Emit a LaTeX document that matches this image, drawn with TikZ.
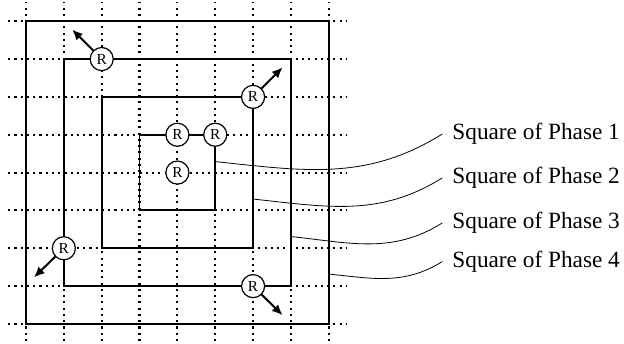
\documentclass[tikz,border=0pt]{standalone}
\usepackage{fontspec}
\setmainfont{Liberation Serif}
\usetikzlibrary{arrows.meta,positioning}

\begin{document}
\begin{tikzpicture}[
    gridline/.style={line width=1.6pt, dash pattern=on 1.6pt off 3.1pt},
    phase/.style={line width=1.4pt},
    robot/.style={circle, draw, fill=white, line width=0.9pt, minimum size=0.61cm, inner sep=0pt, font=\fontsize{11.5}{12}\selectfont},
    move/.style={line width=1.5pt, -{Latex[length=8pt,width=7pt]}},
    phasetext/.style={anchor=west, inner sep=0pt, inner xsep=0.26cm, font=\fontsize{17.5}{21}\selectfont}
]
      \useasboundingbox (-0.687,-0.528) rectangle (15.8,8.56);
      % squares of the phases
      \draw[phase] (0,0) rectangle (8,8);
      \draw[phase] (1,1) rectangle (7,7);
      \draw[phase] (2,2) rectangle (6,6);
      \draw[phase] (3,3) rectangle (5,5);
      % grid
      \foreach \i in {0,...,8} {
          \draw[gridline] (\i,-0.45) -- (\i,8.5);
          \draw[gridline] (-0.47,\i) -- (8.48,\i);
      }
      \node[phasetext] (t1) at (11,5.02) {Square of Phase 1};
      \node[phasetext] (t2) at (11,3.86) {Square of Phase 2};
      \node[phasetext] (t3) at (11,2.67) {Square of Phase 3};
      \node[phasetext] (t4) at (11,1.65) {Square of Phase 4};
      \coordinate (s1) at (5,4.29);
      \coordinate (s2) at (6,3.30);
      \coordinate (s3) at (7,2.31);
      \coordinate (s4) at (8,1.32);
      \foreach \k in {1,...,4}
          \draw[line width=0.6pt] (s\k) to[out=-6,in=212] (t\k.west);
      % robots
      \node[robot] (r1a) at (4,5) {R};
      \node[robot] (r1b) at (5,5) {R};
      \node[robot] (r1c) at (4,4) {R};
      \node[robot] (r2a) at (6,6) {R};
      \node[robot] (r3a) at (2,7) {R};
      \node[robot] (r3b) at (1,2) {R};
      \node[robot] (r3c) at (6,1) {R};
      \coordinate (m2a) at (6.78,6.78);
      \coordinate (m3a) at (1.22,7.78);
      \coordinate (m3b) at (0.21,1.23);
      \coordinate (m3c) at (6.78,0.23);
      \draw[move] (r2a) -- (m2a);
      \draw[move] (r3a) -- (m3a);
      \draw[move] (r3b) -- (m3b);
      \draw[move] (r3c) -- (m3c);
\end{tikzpicture}
\end{document}
